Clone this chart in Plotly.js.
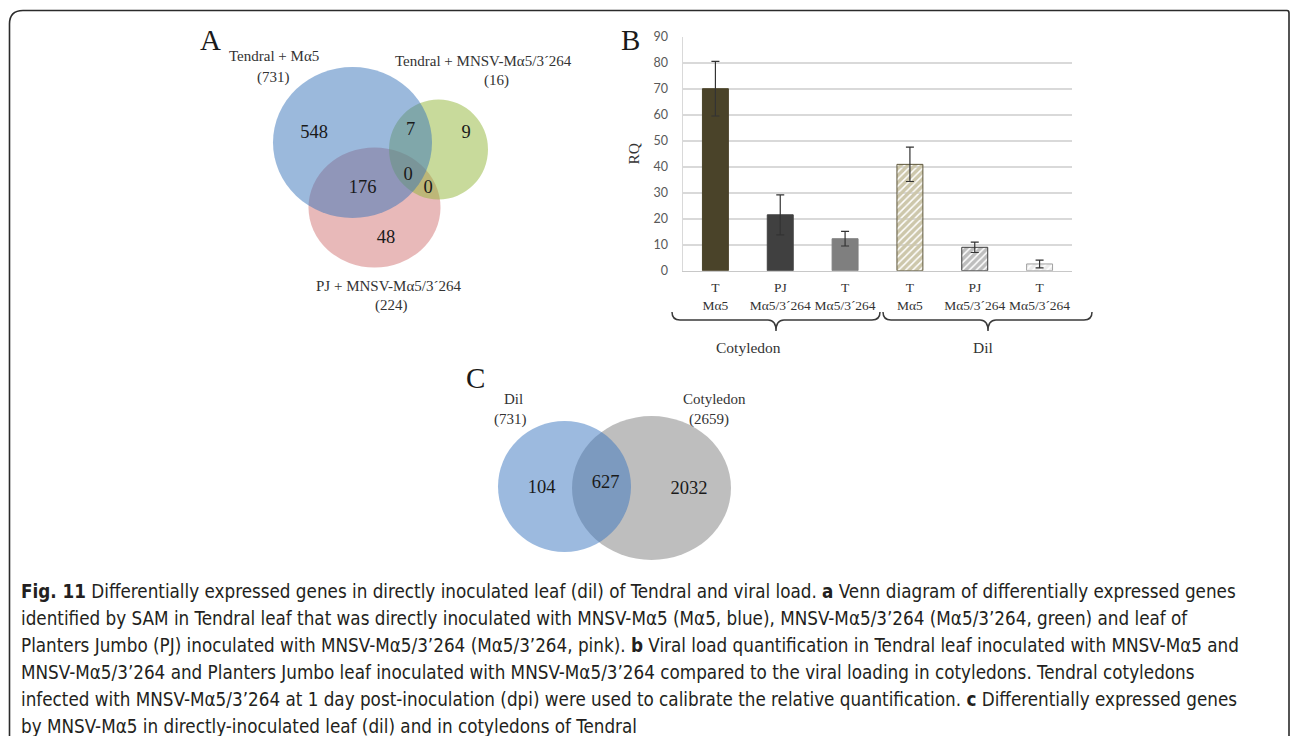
<!DOCTYPE html>
<html>
<head>
<meta charset="utf-8">
<script src="https://cdn.plot.ly/plotly-3.0.1.min.js"></script>
<style>html,body{margin:0;padding:0;background:#fff;}#chart{width:1290px;height:736px;}</style>
</head>
<body>
<div id="chart"></div>
<script>
// ---------- Panel A: Venn (three sets) ----------
const vennASets = ['Tendral + Mα5', 'Tendral + MNSV-Mα5/3´264', 'PJ + MNSV-Mα5/3´264'];
const vennATotals = [731, 16, 224];
const vennARegions = ['548', '7', '9', '0', '0', '176', '48'];

// ---------- Panel B: viral load (RQ) ----------
const barGroups = ['Cotyledon', 'Cotyledon', 'Cotyledon', 'Dil', 'Dil', 'Dil'];
const barPlants = ['T', 'PJ', 'T', 'T', 'PJ', 'T'];
const barVirus = ['Mα5', 'Mα5/3´264', 'Mα5/3´264', 'Mα5', 'Mα5/3´264', 'Mα5/3´264'];
const rqValues = [70.0, 21.5, 12.3, 40.9, 9.0, 2.6];
const rqErrors = [10.5, 7.7, 2.8, 6.6, 2.0, 1.5];
const yTicks = [0, 10, 20, 30, 40, 50, 60, 70, 80, 90];

// ---------- Panel C: Venn (two sets) ----------
const vennCSets = ['Dil', 'Cotyledon'];
const vennCTotals = [731, 2659];
const vennCRegions = ['104', '627', '2032'];

// ---------- Caption ----------
const captionLines = [
  '<b>Fig. 11</b> Differentially expressed genes in directly inoculated leaf (dil) of Tendral and viral load. <b>a</b> Venn diagram of differentially expressed genes',
  'identified by SAM in Tendral leaf that was directly inoculated with MNSV-Mα5 (Mα5, blue), MNSV-Mα5/3’264 (Mα5/3’264, green) and leaf of',
  'Planters Jumbo (PJ) inoculated with MNSV-Mα5/3’264 (Mα5/3’264, pink). <b>b</b> Viral load quantification in Tendral leaf inoculated with MNSV-Mα5 and',
  'MNSV-Mα5/3’264 and Planters Jumbo leaf inoculated with MNSV-Mα5/3’264 compared to the viral loading in cotyledons. Tendral cotyledons',
  'infected with MNSV-Mα5/3’264 at 1 day post-inoculation (dpi) were used to calibrate the relative quantification. <b>c</b> Differentially expressed genes',
  'by MNSV-Mα5 in directly-inoculated leaf (dil) and in cotyledons of Tendral'
];

// ================= layout helpers (pixel overlay axes x2/y2) =================
const W = 1290, H = 736;
const SERIF = '"Liberation Serif", "Times New Roman", serif';
const CAPFONT = '"Liberation Sans Narrow", "DejaVu Sans Condensed", "Roboto Condensed", sans-serif';

const xCat = barPlants.map((_, i) => i);
const tickText = barPlants.map((p, i) => p + '<br>' + barVirus[i]);

// positions of the Venn region counts (layout)
const vennAPos = [[314, 133], [410.5, 130], [466, 133], [408, 175], [428, 188], [362.5, 188], [386, 238]];
const vennCPos = [[541.5, 488], [605.5, 483], [689, 489]];

const traces = [];

// Venn A region counts
traces.push({
  type: 'scatter', mode: 'text', xaxis: 'x2', yaxis: 'y2',
  x: vennAPos.map(p => p[0]), y: vennAPos.map(p => p[1]),
  text: vennARegions, textfont: {family: SERIF, size: 18.5, color: '#1a1a1a'},
  hoverinfo: 'skip', showlegend: false
});
// Venn C region counts
traces.push({
  type: 'scatter', mode: 'text', xaxis: 'x2', yaxis: 'y2',
  x: vennCPos.map(p => p[0]), y: vennCPos.map(p => p[1]),
  text: vennCRegions, textfont: {family: SERIF, size: 18.5, color: '#1a1a1a'},
  hoverinfo: 'skip', showlegend: false
});

// Bar chart
traces.push({
  type: 'bar', x: xCat, y: rqValues, width: 0.4,
  marker: {
    color: ['#4a4329', '#404040', '#7f7f7f', '#cdc7ab', '#bdbdbd', '#ececec'],
    line: {color: ['#4a4329', '#404040', '#7f7f7f', '#5e573c', '#3a3a3a', '#a0a0a0'], width: 1},
    pattern: {
      shape: ['', '', '', '/', '/', '/'],
      fgcolor: ['#4a4329', '#404040', '#7f7f7f', '#3f3820', '#262626', '#8a8a8a'],
      bgcolor: ['#4a4329', '#404040', '#7f7f7f', '#cdc7ab', '#bdbdbd', '#ececec'],
      fgopacity: 1, size: 5, solidity: 0.7
    }
  },
  error_y: {type: 'data', array: rqErrors, visible: true, color: '#333333', thickness: 1.2, width: 4},
  hoverinfo: 'y', showlegend: false
});

// ---------- shapes ----------
const shapes = [];
// frame
shapes.push({type: 'path', xref: 'x2', yref: 'y2', layer: 'above',
  path: 'M 9.5 760 L 9.5 24 Q 9.5 10.5 23 10.5 L 1287 10.5 Q 1289 10.5 1289 13 L 1289 760',
  line: {color: '#2b2b2b', width: 1.6}});

// Venn A ellipses (pink bottom, green, blue on top)
shapes.push({type: 'circle', xref: 'x2', yref: 'y2', layer: 'below', x0: 308.5, x1: 440.5, y0: 147.5, y1: 267.5,
  fillcolor: 'rgba(209,115,115,0.5)', line: {width: 0}});
shapes.push({type: 'circle', xref: 'x2', yref: 'y2', layer: 'below', x0: 389, x1: 488, y0: 99.5, y1: 199.5,
  fillcolor: 'rgba(145,181,55,0.5)', line: {width: 0}});
shapes.push({type: 'circle', xref: 'x2', yref: 'y2', layer: 'below', x0: 273, x1: 432, y0: 67, y1: 218,
  fillcolor: 'rgba(56,116,186,0.5)', line: {width: 0}});

// Venn C ellipses (gray bottom, blue on top)
shapes.push({type: 'circle', xref: 'x2', yref: 'y2', layer: 'below', x0: 572, x1: 731, y0: 416, y1: 560,
  fillcolor: 'rgba(125,125,125,0.5)', line: {width: 0}});
shapes.push({type: 'circle', xref: 'x2', yref: 'y2', layer: 'below', x0: 498, x1: 631, y0: 421, y1: 552,
  fillcolor: 'rgba(58,118,192,0.5)', line: {width: 0}});

// braces under panel B
shapes.push({type: 'path', xref: 'x2', yref: 'y2',
  path: 'M 672 312 Q 672 320 680 320 L 768 320 Q 776 320 776 331 Q 776 320 784 320 L 872 320 Q 880 320 880 312',
  line: {color: '#3a3a3a', width: 1.5}});
shapes.push({type: 'path', xref: 'x2', yref: 'y2',
  path: 'M 883 312 Q 883 320 891 320 L 980 320 Q 988 320 988 331 Q 988 320 996 320 L 1084 320 Q 1092 320 1092 312',
  line: {color: '#3a3a3a', width: 1.5}});

// ---------- annotations ----------
const ann = [];
function txt(x, y, text, size, color) {
  ann.push({xref: 'x2', yref: 'y2', x: x, y: y, text: text, showarrow: false,
    font: {family: SERIF, size: size, color: color || '#333'}, xanchor: 'center', yanchor: 'middle'});
}
// panel letters
txt(210, 40, 'A', 29, '#1a1a1a');
txt(630, 40, 'B', 29, '#1a1a1a');
txt(475, 378, 'C', 29, '#1a1a1a');
// Venn A set labels
txt(273.5, 56, vennASets[0], 15);
txt(273.5, 77, '(' + vennATotals[0] + ')', 15);
txt(483, 61, vennASets[1], 15);
txt(496, 80, '(' + vennATotals[1] + ')', 15);
txt(388.5, 286, vennASets[2], 15);
txt(391, 305, '(' + vennATotals[2] + ')', 15);
// Venn C set labels
txt(513, 399, vennCSets[0], 15);
txt(510, 419, '(' + vennCTotals[0] + ')', 15);
txt(714, 399, vennCSets[1], 15);
txt(709, 419, '(' + vennCTotals[1] + ')', 15);
// brace labels (groups)
const groupNames = [...new Set(barGroups)];
txt(748, 347, groupNames[0], 15.5);
txt(983, 347, groupNames[1], 15.5);
// caption
captionLines.forEach((line, i) => {
  ann.push({xref: 'x2', yref: 'y2', x: 19, y: 591 + i * 27, text: line, showarrow: false,
    xanchor: 'left', yanchor: 'middle', align: 'left',
    font: {family: CAPFONT, size: 18.7, color: '#231f20'}});
});

const layout = {
  width: W, height: H, autosize: false,
  margin: {l: 0, r: 0, t: 0, b: 0, pad: 0},
  paper_bgcolor: '#ffffff', plot_bgcolor: 'rgba(0,0,0,0)',
  showlegend: false,
  xaxis: {
    domain: [683 / W, 1072 / W], range: [-0.5, 5.5], anchor: 'y',
    tickmode: 'array', tickvals: xCat, ticktext: tickText,
    tickfont: {family: SERIF, size: 13.5, color: '#333'},
    showgrid: false, zeroline: false, showline: true, linecolor: '#c8c8c8', linewidth: 1.5,
    ticks: '', ticklabelstandoff: 4, fixedrange: true
  },
  yaxis: {
    domain: [1 - 270.7 / H, 1 - 36.7 / H], range: [0, 90], anchor: 'x',
    tickmode: 'array', tickvals: yTicks,
    tickfont: {family: 'Lato, "Open Sans", sans-serif', size: 12.5, color: '#595959'},
    showgrid: true, gridcolor: '#d9d9d9', gridwidth: 1.6,
    zeroline: false, showline: true, linecolor: '#d9d9d9', linewidth: 1.5,
    ticks: '', ticklabelstandoff: 11,
    title: {text: 'RQ', font: {family: SERIF, size: 15.5, color: '#333'}, standoff: 10},
    fixedrange: true
  },
  xaxis2: {domain: [0, 1], range: [0, W], anchor: 'y2', visible: false, fixedrange: true},
  yaxis2: {domain: [0, 1], range: [H, 0], anchor: 'x2', visible: false, fixedrange: true},
  shapes: shapes,
  annotations: ann
};

Plotly.newPlot('chart', traces, layout, {displayModeBar: false, staticPlot: true});
</script>
</body>
</html>
